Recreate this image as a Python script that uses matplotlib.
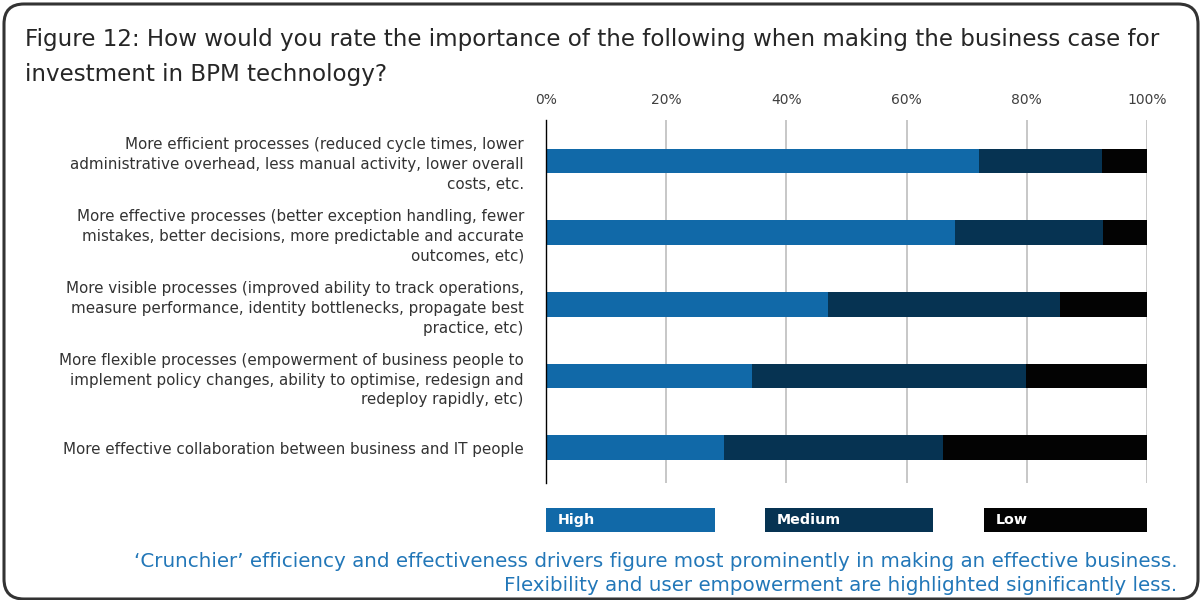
import matplotlib
matplotlib.use("Agg")
import matplotlib.pyplot as plt
from matplotlib.patches import FancyBboxPatch, Rectangle
from matplotlib.transforms import IdentityTransform
import numpy as np

# ---- data ----
categories = [
    "More efficient processes (reduced cycle times, lower\nadministrative overhead, less manual activity, lower overall\ncosts, etc.",
    "More effective processes (better exception handling, fewer\nmistakes, better decisions, more predictable and accurate\noutcomes, etc)",
    "More visible processes (improved ability to track operations,\nmeasure performance, identity bottlenecks, propagate best\npractice, etc)",
    "More flexible processes (empowerment of business people to\nimplement policy changes, ability to optimise, redesign and\nredeploy rapidly, etc)",
    "More effective collaboration between business and IT people",
]
high = [72.0, 68.0, 47.0, 34.3, 29.7]
medium = [20.5, 24.7, 38.6, 45.6, 36.3]
low = [7.5, 7.3, 14.4, 20.1, 34.0]
series_names = ["High", "Medium", "Low"]
xticks = [0, 20, 40, 60, 80, 100]
xtick_labels = ["0%", "20%", "40%", "60%", "80%", "100%"]
title_lines = [
    "Figure 12: How would you rate the importance of the following when making the business case for",
    "investment in BPM technology?",
]
caption_lines = [
    "\u2018Crunchier\u2019 efficiency and effectiveness drivers figure most prominently in making an effective business.",
    "Flexibility and user empowerment are highlighted significantly less.",
]

colors = ["#1169a8", "#063352", "#030303"]
W, H = 1201, 600
FONT = "DejaVu Sans"

fig = plt.figure(figsize=(W / 100, H / 100), dpi=100)
fig.patch.set_facecolor("white")

def fx(x):
    return x / W

def fy(y):
    return 1 - y / H

# border
border = FancyBboxPatch((4, 1), 1194, 595, boxstyle="round,pad=0,rounding_size=20",
                        transform=IdentityTransform(), facecolor="none",
                        edgecolor="#333333", linewidth=2.2)
fig.patches.append(border)

# axes
ax_l, ax_r, ax_t, ax_b = 546, 1147, 120, 483
ax = fig.add_axes([fx(ax_l), fy(ax_b), fx(ax_r - ax_l), (ax_b - ax_t) / H])
y = np.arange(len(categories))
bh = 0.345
left = np.zeros(len(categories))
for vals, c, name in zip([high, medium, low], colors, series_names):
    ax.barh(y, vals, left=left, height=bh, color=c, label=name, zorder=3)
    left = left + np.array(vals)

ax.set_xlim(0, 100)
ax.set_ylim(4.49, -0.57)
ax.xaxis.tick_top()
ax.set_xticks(xticks)
ax.set_xticklabels(xtick_labels, fontsize=10, color="#404040", family=FONT)
ax.tick_params(axis="x", length=0, pad=9)
ax.set_yticks(y)
ax.set_yticklabels(categories, fontsize=10.9, color="#333333", family=FONT,
                   linespacing=1.4, ha="right")
ax.tick_params(axis="y", length=0, pad=16)
for s in ["top", "right", "bottom"]:
    ax.spines[s].set_visible(False)
ax.spines["left"].set_color("black")
ax.spines["left"].set_linewidth(1.0)
ax.spines["left"].set_zorder(4)
for xv in xticks[1:]:
    ax.axvline(xv, color="#bdbdbd", linewidth=1.2, zorder=1)

# title
fig.text(fx(25), fy(46), title_lines[0], fontsize=16.6, color="#262626", family=FONT, va="baseline")
fig.text(fx(25), fy(81), title_lines[1], fontsize=16.6, color="#262626", family=FONT, va="baseline")

# legend boxes
leg_pos = [(546, 715), (765, 933), (984, 1147)]
for (x0, x1), c, name in zip(leg_pos, colors, series_names):
    r = Rectangle((fx(x0), fy(532)), fx(x1 - x0), (532 - 508) / H, transform=fig.transFigure,
                  facecolor=c, edgecolor="none")
    fig.patches.append(r)
    fig.text(fx(x0 + 12), fy(520), name, fontsize=10.3, color="white", fontweight="bold",
             family=FONT, va="center", ha="left")

# caption
fig.text(fx(1177), fy(567), caption_lines[0], fontsize=14.3, color="#2277b8", family=FONT,
         ha="right", va="baseline")
fig.text(fx(1177), fy(591), caption_lines[1], fontsize=14.3, color="#2277b8", family=FONT,
         ha="right", va="baseline")

fig.savefig("out.png", dpi=100, facecolor="white")
